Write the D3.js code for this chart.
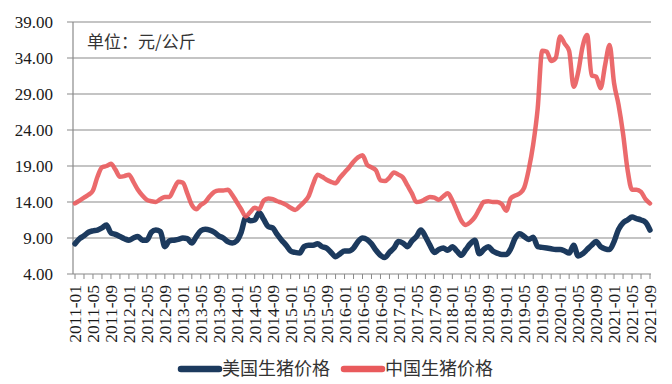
<!DOCTYPE html>
<html lang="zh">
<head>
  <meta charset="UTF-8">
  <title>美国与中国生猪价格</title>
  <script src="https://d3js.org/d3.v7.min.js"></script>
  <style>
    body { margin: 0; background: #fff; }
    svg { display: block; }
    .ylab { font-family: "Liberation Serif", "Times New Roman", "DejaVu Serif", serif; font-size: 17px; fill: #1a1a1a; }
    .xlab { font-family: "Liberation Serif", "Times New Roman", "DejaVu Serif", serif; font-size: 17.5px; fill: #1a1a1a; }
    .cjk { font-family: "Noto Sans CJK SC", sans-serif; fill: #333; }
  </style>
</head>
<body>
  <svg width="672" height="384"></svg>
  <script>
    // monthly, 2011-01 .. 2021-09
    const startYear = 2011;
    const nMonths = 129;
    const months = [];
    for (let i = 0; i < nMonths; i++) {
      const yr = startYear + Math.floor(i / 12);
      const m = (i % 12) + 1;
      months.push(yr + "-" + String(m).padStart(2, "0"));
    }

    const usPrice = [
      8.2, 8.9, 9.3, 9.8, 10.0, 10.1, 10.4, 10.8, 9.7, 9.5, 9.2, 8.9,
      8.7, 9.0, 9.2, 8.7, 8.7, 9.8, 10.1, 9.9, 7.8, 8.6, 8.7, 8.8,
      9.0, 8.9, 8.3, 9.2, 10.0, 10.2, 10.1, 9.8, 9.3, 9.0, 8.5, 8.3,
      8.6, 9.8, 11.8, 11.4, 11.5, 12.5, 11.6, 10.6, 10.4, 9.5, 8.7, 8.0,
      7.2, 7.0, 6.9, 7.8, 8.0, 8.0, 8.2, 7.8, 7.6, 7.0, 6.4, 6.8,
      7.2, 7.2, 7.6, 8.5, 9.0, 8.8, 8.2, 7.3, 6.6, 6.3, 7.0, 7.6,
      8.5, 8.3, 7.8, 8.6, 9.2, 10.1, 9.2, 8.0, 7.0, 7.4, 7.6, 7.3,
      7.8, 7.2, 6.6, 7.4, 8.2, 8.7, 6.8, 7.4, 7.8, 7.2, 6.9, 6.7,
      6.7, 7.5, 9.0, 9.6, 9.2, 8.8, 9.1, 7.8, 7.7, 7.6, 7.5, 7.4,
      7.4, 7.2, 6.9, 8.0, 6.5, 6.8, 7.4, 8.0, 8.5, 7.8, 7.5, 7.4,
      8.5, 10.2, 11.1, 11.5, 11.9, 11.7, 11.5, 11.2, 10.1
    ];

    const cnPrice = [
      13.8, 14.2, 14.6, 15.0, 15.6, 17.5, 18.8, 19.0, 19.3, 18.5, 17.5, 17.6,
      17.8, 16.8, 15.7, 14.9, 14.3, 14.1, 14.0, 14.4, 14.7, 14.7, 15.8, 16.8,
      16.7, 15.2, 13.6, 13.0, 13.6, 14.0, 14.8, 15.4, 15.6, 15.6, 15.7, 15.0,
      14.0, 13.0, 12.0, 12.6, 13.2, 13.0, 14.2, 14.5, 14.4, 14.1, 13.9, 13.6,
      13.2, 12.9, 13.4, 14.0, 14.8, 16.5, 17.8, 17.5, 17.1, 16.8, 16.6, 17.4,
      18.1, 18.8, 19.6, 20.2, 20.5, 19.2, 18.8, 18.4, 17.0, 16.9, 17.4, 18.1,
      17.8, 17.4, 16.3, 15.2, 14.0, 14.1, 14.4, 14.7, 14.6, 14.3, 14.8, 15.2,
      14.2, 12.8, 11.4, 10.8, 11.2, 11.9, 13.0, 14.0, 14.1, 14.0, 14.0, 13.7,
      12.8, 14.5, 14.9, 15.2, 16.0, 18.5, 22.0, 27.0, 35.0, 34.9, 33.6, 34.0,
      37.0, 36.0, 35.0, 30.0, 32.0, 35.6, 37.2, 31.6, 31.4, 29.8, 33.0, 35.8,
      30.5, 27.5, 23.5, 18.5, 15.7, 15.7, 15.4, 14.4, 13.8
    ];

    const yTicks = [4, 9, 14, 19, 24, 29, 34, 39];
    const seriesNames = ["美国生猪价格", "中国生猪价格"];
    const seriesColors = ["#1c3a5e", "#e95a5c"];

    const plotLeft = 73, plotRight = 651, plotTop = 22, plotBottom = 274;
    const svg = d3.select("svg");

    const x = d3.scaleLinear().domain([0, nMonths - 1]).range([plotLeft + 2, plotRight - 1]);
    const y = d3.scaleLinear().domain([4, 39]).range([plotBottom, plotTop]);

    // grid lines
    svg.append("g")
      .selectAll("line")
      .data(yTicks)
      .join("line")
      .attr("x1", plotLeft - 6).attr("x2", plotRight)
      .attr("y1", d => y(d)).attr("y2", d => y(d))
      .attr("stroke", "#8a8a8a").attr("stroke-width", 1.2);

    // y axis
    svg.append("line")
      .attr("x1", plotLeft).attr("x2", plotLeft)
      .attr("y1", plotTop).attr("y2", plotBottom)
      .attr("stroke", "#8a8a8a").attr("stroke-width", 1.2);

    svg.append("g")
      .selectAll("text")
      .data(yTicks)
      .join("text")
      .attr("class", "ylab")
      .attr("font-family", "Liberation Serif, serif")
      .attr("x", 53).attr("y", d => y(d))
      .attr("dy", "0.35em")
      .attr("text-anchor", "end")
      .text(d => d.toFixed(2));

    // x ticks every 2 months, labels every 4
    const tickIdx = d3.range(0, nMonths, 2);
    svg.append("g")
      .selectAll("line")
      .data(tickIdx)
      .join("line")
      .attr("x1", d => x(d)).attr("x2", d => x(d))
      .attr("y1", plotBottom).attr("y2", plotBottom + 5)
      .attr("stroke", "#8a8a8a").attr("stroke-width", 1);

    const labelIdx = d3.range(0, nMonths, 4);
    svg.append("g")
      .selectAll("text")
      .data(labelIdx)
      .join("text")
      .attr("class", "xlab")
      .attr("font-family", "Liberation Serif, serif")
      .attr("transform", d => `translate(${x(d)},${plotBottom + 11}) rotate(-90)`)
      .attr("dy", "0.35em")
      .attr("text-anchor", "end")
      .text(d => months[d]);

    // lines
    const line = d3.line()
      .x((d, i) => x(i))
      .y(d => y(d))
      .curve(d3.curveMonotoneX);

    svg.append("path")
      .datum(usPrice)
      .attr("fill", "none")
      .attr("stroke", seriesColors[0])
      .attr("stroke-width", 5.5)
      .attr("stroke-linejoin", "round")
      .attr("stroke-linecap", "round")
      .attr("d", line);

    svg.append("path")
      .datum(cnPrice)
      .attr("fill", "none")
      .attr("stroke", seriesColors[1])
      .attr("stroke-opacity", 0.9)
      .attr("stroke-width", 4.5)
      .attr("stroke-linejoin", "round")
      .attr("stroke-linecap", "round")
      .attr("d", line);

    // unit note
    svg.append("text")
      .attr("class", "cjk")
      .attr("x", 87).attr("y", 48)
      .attr("font-size", 17)
      .text("单位：元/公斤");

    // legend
    const legendX = [181, 344];
    const legend = svg.append("g");
    seriesNames.forEach((name, i) => {
      legend.append("line")
        .attr("x1", legendX[i]).attr("x2", legendX[i] + 38)
        .attr("y1", 369).attr("y2", 369)
        .attr("stroke", seriesColors[i])
        .attr("stroke-width", 6.5)
        .attr("stroke-linecap", "round");
      legend.append("text")
        .attr("class", "cjk")
        .attr("x", legendX[i] + 41).attr("y", 369)
        .attr("dy", "0.36em")
        .attr("font-size", 18)
        .text(name);
    });
  </script>
</body>
</html>
